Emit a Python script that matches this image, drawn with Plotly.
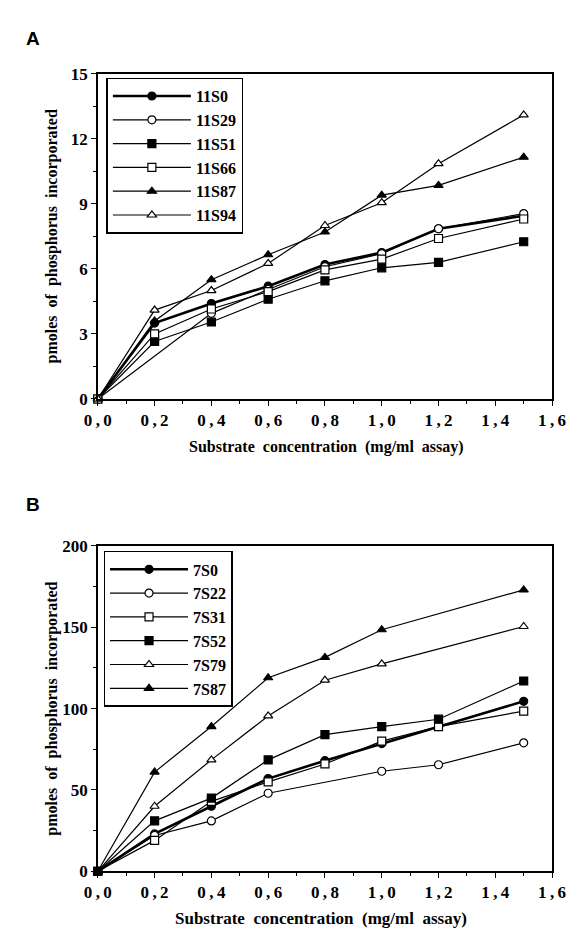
import plotly.graph_objects as go

# ---------------- data ----------------
conc = [0.0, 0.2, 0.4, 0.6, 0.8, 1.0, 1.2, 1.5]

a_names = ["11S0", "11S29", "11S51", "11S66", "11S87", "11S94"]
a_11S0 = [0, 3.5, 4.4, 5.2, 6.2, 6.75, 7.85, 8.45]
a_11S29 = [0, None, 3.95, 5.05, 6.1, 6.7, 7.85, 8.55]
a_11S51 = [0, 2.65, 3.55, 4.6, 5.45, 6.05, 6.3, 7.25]
a_11S66 = [0, 3.0, 4.15, 4.95, 5.95, 6.45, 7.4, 8.3]
a_11S87 = [0, 3.6, 5.5, 6.65, 7.7, 9.4, 9.85, 11.15]
a_11S94 = [0, 4.1, 5.0, 6.25, 8.0, 9.05, 10.85, 13.1]

b_names = ["7S0", "7S22", "7S31", "7S52", "7S79", "7S87"]
b_7S0 = [0, 23, 40, 57, 68, 78.5, 89, 104.5]
b_7S22 = [0, 22, 31, 48, None, 61.5, 65.5, 79]
b_7S31 = [0, 19, 43, 55, 66, 80, 89, 98.5]
b_7S52 = [0, 31, 45, 68.5, 84, 89, 93.5, 117]
b_7S79 = [0, 40, 68.5, 95.5, 117.5, 127.5, None, 150.5]
b_7S87 = [0, 61, 89, 119, 131.5, 148.5, None, 173]

x_ticks = [0, 0.2, 0.4, 0.6, 0.8, 1.0, 1.2, 1.4, 1.6]
x_ticktext = ["0\u2009,\u20090", "0\u2009,\u20092", "0\u2009,\u20094", "0\u2009,\u20096",
              "0\u2009,\u20098", "1\u2009,\u20090", "1\u2009,\u20092", "1\u2009,\u20094",
              "1\u2009,\u20096"]
a_yticks = [0, 3, 6, 9, 12, 15]
b_yticks = [0, 50, 100, 150, 200]

# ---------------- styling ----------------
W, H = 588, 945
SERIF = "Liberation Serif"
BLACK = "black"

styles = [
    ("circle", BLACK, 2.6),
    ("circle", "white", 1.2),
    ("square", BLACK, 1.2),
    ("square", "white", 1.2),
    ("triangle-up", BLACK, 1.2),
    ("triangle-up", "white", 1.2),
]
a_styles = styles
b_styles = [styles[0], styles[1], styles[3], styles[2], styles[5], styles[4]]

fig = go.Figure()


def add_series(name, ys, st, xa, ya, leg):
    sym, fill, lw = st
    fig.add_trace(go.Scatter(
        x=conc, y=ys, name=name, mode="lines+markers",
        connectgaps=True, xaxis=xa, yaxis=ya, legend=leg,
        line=dict(color=BLACK, width=lw),
        marker=dict(symbol=sym, size=8, color=fill,
                    line=dict(color=BLACK, width=1.2)),
        cliponaxis=False,
    ))


for n, ys, st in zip(a_names, [a_11S0, a_11S29, a_11S51, a_11S66, a_11S87, a_11S94], a_styles):
    add_series(n, ys, st, "x", "y", "legend")
for n, ys, st in zip(b_names, [b_7S0, b_7S22, b_7S31, b_7S52, b_7S79, b_7S87], b_styles):
    add_series(n, ys, st, "x2", "y2", "legend2")

xdom = [88 / W, 565 / W]
a_ydom = [1 - 398 / H, 1 - 66 / H]
b_ydom = [1 - 880 / H, 1 - 548 / H]

tickfont = dict(family=SERIF, size=17, color=BLACK, weight="bold")
common_x = dict(range=[0, 1.6], tickvals=x_ticks, ticktext=x_ticktext,
                showline=True, linecolor=BLACK, linewidth=1.5, mirror=True,
                ticks="outside", ticklen=5, tickwidth=1.2, tickcolor=BLACK,
                minor=dict(dtick=0.1, ticks="outside", ticklen=3, tickwidth=1, tickcolor=BLACK),
                showgrid=False, zeroline=False, tickfont=tickfont, domain=xdom)
common_y = dict(showline=True, linecolor=BLACK, linewidth=1.5, mirror=True,
                ticks="outside", ticklen=5, tickwidth=1.2, tickcolor=BLACK,
                showgrid=False, zeroline=False, tickfont=tickfont)

legend_common = dict(bgcolor="white", bordercolor=BLACK, borderwidth=1.5,
                     font=dict(family=SERIF, size=16, color=BLACK, weight="bold"),
                     itemwidth=78, tracegroupgap=0,
                     xanchor="left", yanchor="top", itemclick=False)

fig.update_layout(
    width=W, height=H,
    margin=dict(l=0, r=0, t=0, b=0),
    paper_bgcolor="white", plot_bgcolor="white",
    xaxis=dict(**common_x, anchor="y"),
    yaxis=dict(**common_y, range=[0, 15], tickvals=a_yticks, domain=a_ydom,
               minor=dict(dtick=1.5, ticks="outside", ticklen=3, tickwidth=1, tickcolor=BLACK),
               anchor="x"),
    xaxis2=dict(**common_x, anchor="y2"),
    yaxis2=dict(**common_y, range=[0, 200], tickvals=b_yticks, domain=b_ydom,
                minor=dict(dtick=25, ticks="outside", ticklen=3, tickwidth=1, tickcolor=BLACK),
                anchor="x2"),
    legend=dict(**legend_common, x=97 / W, y=1 - 70 / H),
    legend2=dict(**legend_common, x=94 / W, y=1 - 553 / H),
    showlegend=True,
)

title_font = dict(family=SERIF, size=16, color=BLACK, weight="bold")
annots = [
    dict(text="A", x=10 / W, y=1 - 30 / H, xanchor="left", yanchor="middle",
         font=dict(family="Liberation Sans", size=19, color=BLACK, weight="bold")),
    dict(text="B", x=10 / W, y=1 - 506 / H, xanchor="left", yanchor="middle",
         font=dict(family="Liberation Sans", size=19, color=BLACK, weight="bold")),
    dict(text="pmoles  of  phosphorus  incorporated", x=40 / W, y=1 - 232 / H,
         textangle=-90, xanchor="center", yanchor="middle", font=title_font),
    dict(text="pmoles  of  phosphorus  incorporated", x=40 / W, y=1 - 714 / H,
         textangle=-90, xanchor="center", yanchor="middle", font=title_font),
    dict(text="Substrate  concentration  (mg/ml  assay)", x=328 / W, y=1 - 447 / H,
         xanchor="center", yanchor="middle", font=title_font),
    dict(text="Substrate  concentration  (mg/ml  assay)", x=322 / W, y=1 - 928 / H,
         xanchor="center", yanchor="middle", font=dict(family=SERIF, size=17, color=BLACK, weight="bold")),
]
for a in annots:
    a.update(xref="paper", yref="paper", showarrow=False)
fig.update_layout(annotations=annots)

fig.write_html("out.html")
